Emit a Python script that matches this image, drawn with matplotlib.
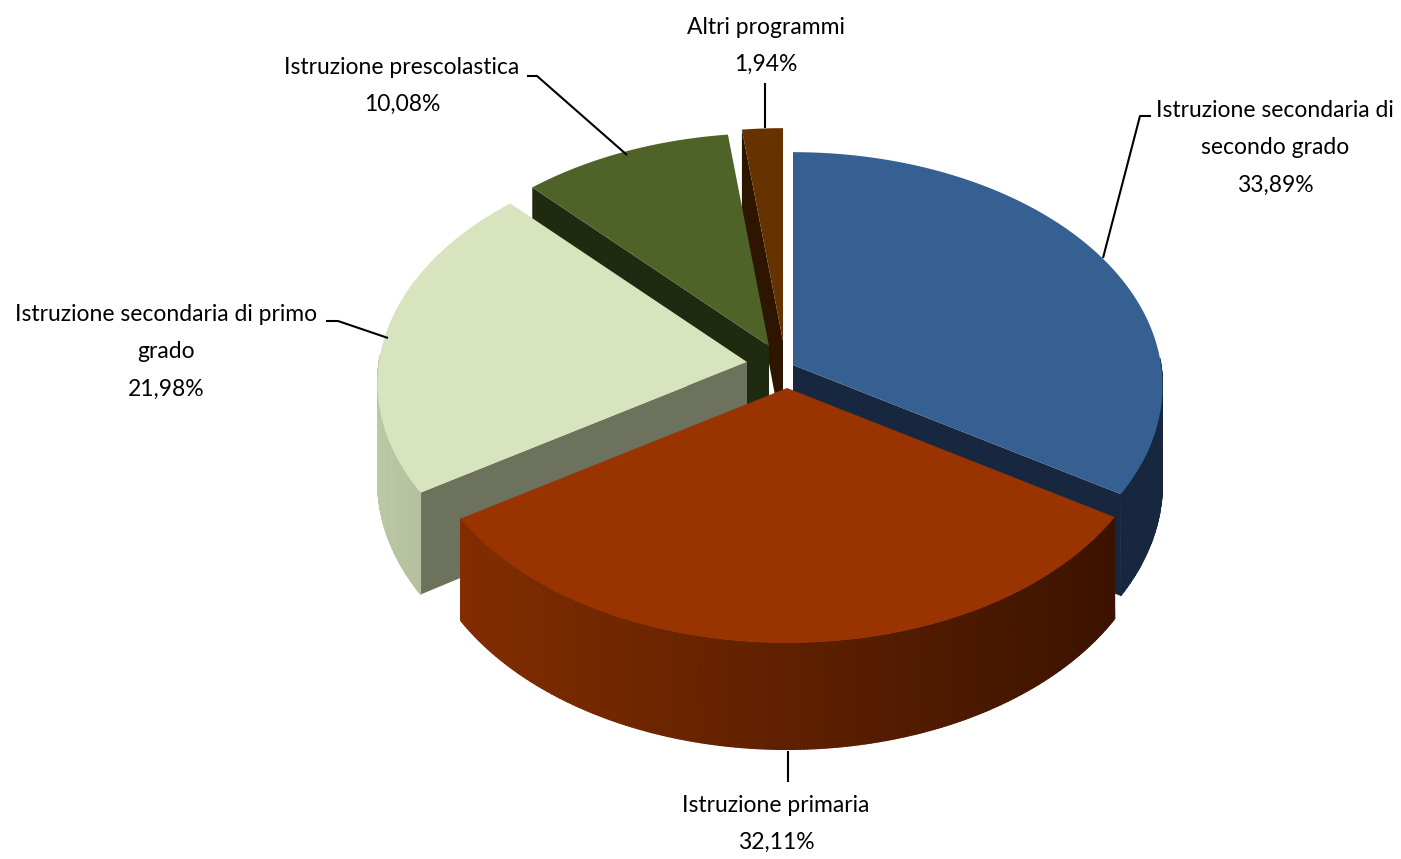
import numpy as np
import matplotlib
matplotlib.use('Agg')
import matplotlib.pyplot as plt
from matplotlib.colors import LinearSegmentedColormap

categories = ['Istruzione secondaria di\nsecondo grado', 'Istruzione primaria',
              'Istruzione secondaria di primo\ngrado', 'Istruzione prescolastica', 'Altri programmi']
values = [33.89, 32.11, 21.98, 10.08, 1.94]
top_colors = ['#376092', '#993300', '#d7e4bd', '#4f6228', '#663300']
wall_colors = ['#16273f', '#3c1300', '#6c725c', '#1f2a11', '#2e1500']
side_left = ['#16273f', '#822d00', '#bcc7a6', '#1f2a11', '#2e1500']
side_right = ['#16273f', '#3c1300', '#b5c09f', '#1f2a11', '#2e1500']

# apex of every slice on the picture (exploded pie)
apex = [(793, 365), (787, 388), (747, 362), (769, 346), (783, 341)]
draw_order = [4, 3, 0, 2, 1]

# label centre and leader line, in pixels
label_pos = [(1275, 148), (776, 824), (166, 352), (402, 86), (766, 46)]
leaders = [[(1151, 116), (1140, 116), (1103, 258)],
           [(788, 751), (788, 782)],
           [(326, 321), (338, 321), (388, 338)],
           [(527, 76), (537, 76), (627, 155)],
           [(765, 83), (765, 128)]]

A, B, P, DEPTH = 368, 232, 0.09, 97


def project(cx, cy, t, drop=0.0):
    y = -np.cos(t)
    s = 1 / (1 - P * y)
    return cx + A * np.sin(t) * s, cy + (B * y + drop) * s


plt.rcParams['font.family'] = ['Lato', 'DejaVu Sans']

fig = plt.figure(figsize=(14.01, 8.59), dpi=100)
ax = fig.add_axes([0, 0, 1, 1])
ax.axis('off')

edges = np.radians(np.concatenate([[0], np.cumsum(values)]) * 3.6)

for i in draw_order:
    cx, cy = apex[i]
    t = np.linspace(edges[i], edges[i + 1], 240)
    xt, yt = project(cx, cy, t)

    # cut faces: only the ones turned to the viewer
    cuts = []
    if np.sin(t[0]) < -1e-6:
        cuts.append(t[0])
    if np.sin(t[-1]) > 1e-6:
        cuts.append(t[-1])
    for e in cuts:
        x0, y0 = project(cx, cy, e)
        x1, y1 = project(cx, cy, e, DEPTH)
        ax.fill([cx, x0, x1, cx], [cy, y0, y1, cy + DEPTH], color=wall_colors[i], lw=0)

    # outer side, shaded left to right, front half only
    front = t[np.cos(t) < 0.03]
    if len(front) > 1:
        xf, yf = project(cx, cy, front)
        xb, yb = project(cx, cy, front, DEPTH)
        cmap = LinearSegmentedColormap.from_list('side', [side_left[i], side_right[i]])
        ax.pcolormesh(np.vstack([xf, xb]), np.vstack([yf, yb]), np.vstack([xf, xb]),
                      shading='gouraud', cmap=cmap)

    ax.fill(np.r_[cx, xt], np.r_[cy, yt], color=top_colors[i], lw=0)

for pts in leaders:
    xs, ys = zip(*pts)
    ax.plot(xs, ys, color='black', lw=1.5, solid_capstyle='butt')

for name, val, (x, y) in zip(categories, values, label_pos):
    txt = name + '\n' + f'{val:.2f}'.replace('.', ',') + '%'
    ax.text(x, y, txt, ha='center', va='center', fontsize=16.5, linespacing=1.96, color='black')

ax.set_xlim(0, 1401)
ax.set_ylim(859, 0)
fig.savefig('out.png', dpi=100)
